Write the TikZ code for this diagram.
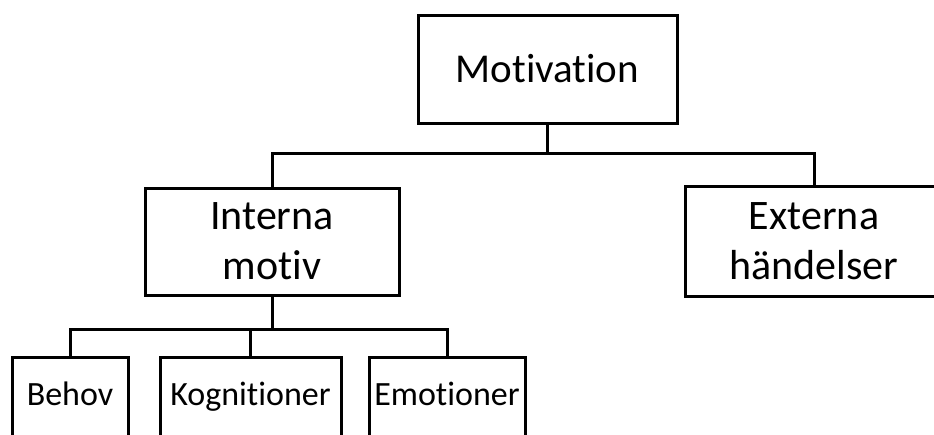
\documentclass[tikz,border=0pt]{standalone}
\usepackage{fontspec}
\setmainfont{Carlito}[Ligatures={NoCommon}]
\usetikzlibrary{positioning, calc}

\begin{document}
\begin{tikzpicture}[
    x=1pt, y=-1pt,
    block/.style={rectangle, draw, line width=3pt, inner sep=0pt, align=center, font=\fontsize{42}{50}\selectfont},
    leaf/.style={rectangle, draw, line width=3pt, inner xsep=0pt, inner ysep=0pt, anchor=base, text height=48pt, text depth=45pt, font=\fontsize{34}{40}\selectfont},
    line/.style={draw, line width=3pt}
]
\clip (0,0) rectangle (934,434);

\node[block, minimum width=259pt, minimum height=108pt, font=\fontsize{41}{48}\selectfont] (motivation) at (547.5,69) {Motivation};

\node[block, minimum width=254pt, minimum height=107pt] (interna) at (272,241.5) {Interna\\motiv};
\node[block, minimum width=258pt, minimum height=110pt] (externa) at (814,241) {Externa\\händelser};

\node[leaf, minimum width=116pt] (behov) at (70,405) {Behov};
\node[leaf, minimum width=181pt] (kognitioner) at (250.5,405) {Kognitioner};
\node[leaf, minimum width=156pt] (emotioner) at (447,405) {Emotioner};

\coordinate (topbus) at (0,153);
\coordinate (lowbus) at (0,329);

\draw[line] (motivation.south) -- (motivation.south |- topbus);
\draw[line] (interna.north) |- (topbus -| externa.north) -- (externa.north);

\draw[line] (interna.south) -- (interna.south |- lowbus);
\draw[line] (behov.north) |- (lowbus -| emotioner.north) -- (emotioner.north);
\draw[line] (kognitioner.north) -- (kognitioner.north |- lowbus);

\end{tikzpicture}
\end{document}
